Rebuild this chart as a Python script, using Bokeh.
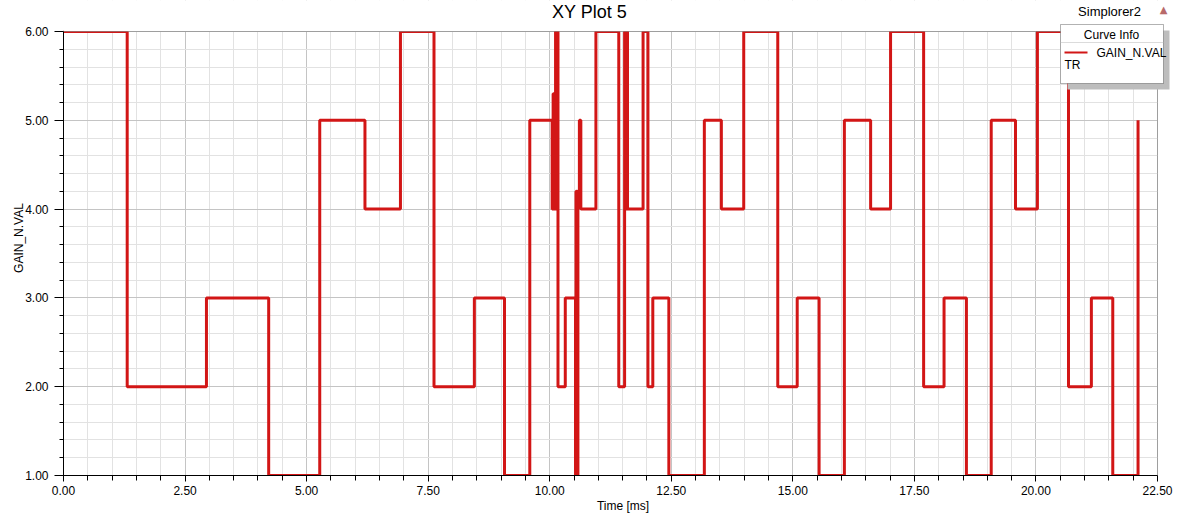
from bokeh.plotting import figure
from bokeh.models import (Range1d, SingleIntervalTicker, NumeralTickFormatter,
                          Label, BoxAnnotation)
from bokeh.embed import file_html
from bokeh.resources import INLINE

# ---- data ----
time_ms = [0.00, 1.31, 2.94, 4.22, 5.27, 6.20, 6.93, 7.62, 8.45, 9.07, 9.59,
           10.05, 10.07, 10.08, 10.10, 10.11, 10.12, 10.13, 10.14, 10.15,
           10.16, 10.17, 10.32, 10.53,
           10.54, 10.55, 10.56, 10.57, 10.58, 10.61, 10.64, 10.95, 11.42,
           11.54, 11.56, 11.57, 11.58, 11.59, 11.60,
           11.63, 11.92, 12.02, 12.12, 12.45, 13.18, 13.53, 13.99, 14.69,
           15.09, 15.54, 16.06, 16.60, 17.01, 17.69, 18.11, 18.57, 19.08,
           19.58, 20.03, 20.67, 21.14, 21.58, 22.10]
gain_val = [6, 2, 3, 1, 5, 4, 6, 2, 3, 1, 5,
            4, 5.3, 4, 5.3, 4, 6, 4, 6, 4,
            6, 2, 3, 1,
            4.2, 1, 4.2, 1, 4.2, 5, 4, 6, 2,
            6, 4, 6, 4, 6, 4,
            4, 6, 2, 3, 1, 5, 4, 6, 2,
            3, 1, 5, 4, 6, 2, 3, 1, 5,
            4, 6, 2, 3, 1, 5]

x_bounds = (0.0, 22.5)
y_bounds = (1.0, 6.0)

FONT = "Liberation Sans"
RED = "#d21616"

W, H = 1182, 516
LEFT, BOTTOM = 63, 41
px_per_x = (1157 - 63) / (x_bounds[1] - x_bounds[0])
px_per_y = (475 - 31) / (y_bounds[1] - y_bounds[0])
x_end = x_bounds[0] + (W - LEFT) / px_per_x
y_end = y_bounds[0] + (H - BOTTOM) / px_per_y

p = figure(width=W, height=H, output_backend="svg", toolbar_location=None,
           x_range=Range1d(x_bounds[0], x_end), y_range=Range1d(y_bounds[0], y_end),
           min_border_left=LEFT, min_border_right=0, min_border_top=0,
           min_border_bottom=BOTTOM, background_fill_color="white",
           border_fill_color="white")
p.outline_line_color = None

# axes
p.xaxis.ticker = SingleIntervalTicker(interval=2.5, num_minor_ticks=5)
p.yaxis.ticker = SingleIntervalTicker(interval=1, num_minor_ticks=5)
p.xaxis.formatter = NumeralTickFormatter(format="0.00")
p.yaxis.formatter = NumeralTickFormatter(format="0.00")
p.xaxis.bounds = x_bounds
p.yaxis.bounds = y_bounds
for ax in (p.xaxis[0], p.yaxis[0]):
    ax.axis_line_color = "black"
    ax.major_tick_line_color = "black"
    ax.minor_tick_line_color = "black"
    ax.major_tick_in = 0
    ax.minor_tick_in = 0
    ax.major_label_text_font = FONT
    ax.major_label_text_font_size = "12px"
    ax.major_label_text_color = "black"
    ax.axis_label_text_font = FONT
    ax.axis_label_text_font_size = "12px"
    ax.axis_label_text_font_style = "normal"
    ax.axis_label_text_color = "black"
p.xaxis.major_tick_out = 6
p.xaxis.minor_tick_out = 5
p.yaxis.major_tick_out = 9
p.yaxis.minor_tick_out = 4
p.xaxis.major_label_standoff = 4
p.yaxis.major_label_standoff = 6
p.xaxis.axis_label = "Time [ms]"
p.yaxis.axis_label = "GAIN_N.VAL"
p.xaxis.axis_label_standoff = 1
p.yaxis.axis_label_standoff = -4

# grid
p.xgrid.ticker = p.xaxis.ticker
p.ygrid.ticker = p.yaxis.ticker
for g in (p.xgrid[0], p.ygrid[0]):
    g.grid_line_color = "#c4c4c4"
    g.minor_grid_line_color = "#e2e2e2"

# curve
p.step(time_ms, gain_val, mode="after", line_color=RED, line_width=3)

# mask outside the plotting rectangle, then its border
p.add_layout(BoxAnnotation(bottom=y_bounds[1], fill_color="white", fill_alpha=1.0,
                           line_color=None))
p.add_layout(BoxAnnotation(left=x_bounds[1], fill_color="white", fill_alpha=1.0,
                           line_color=None))
p.add_layout(BoxAnnotation(left=x_bounds[0], right=x_bounds[1], bottom=y_bounds[0],
                           top=y_bounds[1], fill_alpha=0, line_color="black",
                           line_width=1))

def dx(px):
    return x_bounds[0] + (px - LEFT) / px_per_x

def dy(py):
    return y_bounds[1] - (py - 31) / px_per_y

# titles
p.add_layout(Label(x=dx(589), y=dy(11), text="XY Plot 5", text_font=FONT,
                   text_font_size="18px", text_align="center",
                   text_baseline="middle", text_color="black"))
p.add_layout(Label(x=dx(1109), y=dy(11), text="Simplorer2", text_font=FONT,
                   text_font_size="13px", text_align="center",
                   text_baseline="middle", text_color="black"))
p.add_layout(Label(x=dx(1163), y=dy(9), text="▲", text_font="DejaVu Sans",
                   text_font_size="10px", text_align="center",
                   text_baseline="middle", text_color="#b86a6a"))

# curve info box (shadow, box, separator, sample)
p.add_layout(BoxAnnotation(left=dx(1067), right=dx(1169), top=dy(30), bottom=dy(89),
                           fill_color="#bdbdbd", fill_alpha=1.0, line_color=None))
p.add_layout(BoxAnnotation(left=dx(1060), right=dx(1163), top=dy(24), bottom=dy(83),
                           fill_color="white", fill_alpha=1.0,
                           line_color="black", line_width=1))
p.add_layout(BoxAnnotation(left=dx(1060), right=dx(1163), top=dy(42), bottom=dy(42),
                           fill_alpha=0, line_color="#b8b8b8", line_width=1))
p.add_layout(BoxAnnotation(left=dx(1064), right=dx(1087), top=dy(51), bottom=dy(53),
                           fill_color=RED, fill_alpha=1.0, line_color=None))
p.add_layout(Label(x=dx(1111), y=dy(34), text="Curve Info", text_font=FONT,
                   text_font_size="12px", text_align="center",
                   text_baseline="middle", text_color="black"))
p.add_layout(Label(x=dx(1096), y=dy(52), text="GAIN_N.VAL", text_font=FONT,
                   text_font_size="12px", text_align="left",
                   text_baseline="middle", text_color="black"))
p.add_layout(Label(x=dx(1064), y=dy(64), text="TR", text_font=FONT,
                   text_font_size="12px", text_align="left",
                   text_baseline="middle", text_color="black"))

open("out.html", "w").write(file_html(p, INLINE))
